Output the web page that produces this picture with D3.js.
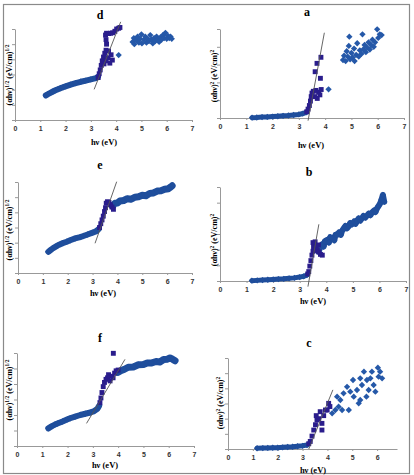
<!DOCTYPE html>
<html>
<head>
<meta charset="utf-8">
<script src="https://cdn.jsdelivr.net/npm/d3@7"></script>
<style>
body { margin: 0; background: #fff; }
text { font-family: "Liberation Serif", "DejaVu Serif", serif; font-weight: bold; }
.tick text { font-family: "Liberation Sans", Arial, sans-serif; font-size: 7px; fill: #333; }
</style>
</head>
<body>
<div id="chart"></div>
<script>
// tick labels
var hvTicks = [0, 1, 2, 3, 4, 5, 6, 7];
var hvTicksC = [0, 1, 2, 3, 4, 5, 6];
var yTicks5 = [0, 1, 2, 3, 4, 5];
var yTicks6 = [0, 1, 2, 3, 4, 5, 6];

// panel d : (ahv)^1/2
var dBand = [[1.22,1.62],[1.3,1.7],[1.4,1.79],[1.5,1.88],[1.6,1.96],[1.7,2.03],[1.8,2.1],[1.9,2.16],[2.0,2.22],[2.2,2.33],[2.4,2.43],[2.6,2.52],[2.8,2.6],[3.0,2.68],[3.2,2.76],[3.28,2.85]];
var dSquares = [[3.29,2.8],[3.33,3.05],[3.37,3.3],[3.41,3.6],[3.45,3.9],[3.5,4.15],[3.55,4.4],[3.6,4.6],[3.52,3.7],[3.6,3.9],[3.68,4.1],[3.75,3.75],[3.8,4.3],[3.85,3.95],[3.7,4.55],[3.62,5.0],[3.6,5.3],[3.58,5.6],[3.62,5.72],[3.7,5.7],[3.78,5.72],[3.86,5.75],[3.95,5.85],[4.02,6.0],[4.1,6.05],[4.15,6.1]];
var dCloud = [[4.1,4.28],[4.65,5.15],[4.7,5.4],[4.72,5.0],[4.8,5.25],[4.85,5.5],[4.9,5.1],[4.95,5.35],[5.0,5.65],[5.02,5.05],[5.1,5.3],[5.15,5.5],[5.2,5.1],[5.25,5.35],[5.3,5.2],[5.35,5.6],[5.4,5.3],[5.45,5.05],[5.5,5.4],[5.55,5.2],[5.6,5.5],[5.65,5.3],[5.7,5.15],[5.75,5.45],[5.8,5.3],[5.85,5.6],[5.9,5.4],[5.95,5.75],[6.0,5.35],[6.05,5.55],[6.1,5.4],[6.15,5.5],[6.2,5.35]];
var dFit = [[3.13,2.02],[4.18,6.47]];

// panel a : (ahv)^2
var aBand = [[1.22,0.02],[1.4,0.03],[1.6,0.05],[1.8,0.06],[2.0,0.08],[2.2,0.1],[2.4,0.12],[2.6,0.14],[2.8,0.17],[3.0,0.2],[3.15,0.25],[3.28,0.32]];
var aSquares = [[3.3,0.35],[3.35,0.5],[3.4,0.7],[3.44,0.95],[3.47,1.2],[3.5,1.4],[3.55,1.5],[3.6,1.2],[3.65,1.55],[3.7,1.1],[3.75,1.45],[3.8,1.3],[3.85,1.6],[3.62,2.6],[3.69,3.07],[3.82,2.23],[3.84,3.41]];
var aCloud = [[4.13,1.61],[4.68,3.26],[4.72,3.5],[4.78,3.2],[4.82,3.75],[4.86,3.45],[4.9,4.05],[4.92,4.57],[4.95,3.3],[5.0,3.65],[5.05,3.4],[5.1,3.9],[5.12,3.2],[5.18,3.55],[5.22,4.2],[5.28,3.45],[5.32,3.8],[5.38,3.6],[5.42,4.7],[5.45,3.85],[5.5,4.1],[5.55,3.7],[5.6,3.95],[5.65,4.25],[5.7,3.85],[5.75,4.1],[5.8,4.4],[5.85,4.0],[5.9,4.25],[5.98,4.98],[6.02,4.5],[6.08,4.7],[6.15,4.66]];
var aFit = [[3.35,-0.15],[3.97,4.79]];

// panel e : (ahv)^1/2
var eBand = [[1.22,1.4],[1.3,1.5],[1.4,1.62],[1.5,1.72],[1.6,1.82],[1.7,1.9],[1.8,1.97],[1.96,2.06],[2.1,2.16],[2.3,2.28],[2.5,2.37],[2.63,2.44],[2.8,2.54],[3.0,2.66],[3.15,2.76],[3.25,2.9]];
var eBand2 = [[3.8,4.4],[3.9,4.6],[4.0,4.62],[4.1,4.75],[4.25,4.78],[4.4,4.9],[4.55,4.86],[4.7,5.0],[4.85,5.02],[5.0,5.12],[5.15,5.1],[5.3,5.25],[5.45,5.28],[5.6,5.4],[5.75,5.42],[5.9,5.52],[6.05,5.56],[6.15,5.68],[6.2,5.75]];
var eSquares = [[3.28,3.0],[3.33,3.25],[3.38,3.5],[3.43,3.75],[3.48,4.05],[3.52,4.3],[3.55,4.6],[3.6,4.7],[3.66,4.65],[3.72,4.5],[3.78,4.35],[3.84,4.2]];
var eFit = [[3.1,1.96],[3.97,6.02]];

// panel b : (ahv)^2
var bBand = [[1.2,0.02],[1.4,0.04],[1.6,0.06],[1.8,0.08],[2.0,0.1],[2.2,0.12],[2.4,0.14],[2.6,0.17],[2.8,0.2],[3.0,0.25],[3.15,0.3],[3.27,0.38]];
var bSquares = [[3.3,0.45],[3.34,0.6],[3.38,0.95],[3.42,1.3],[3.46,1.65],[3.5,1.9],[3.52,2.2],[3.5,2.45],[3.58,2.5],[3.62,2.2],[3.66,1.95],[3.72,1.85],[3.78,1.7],[3.85,1.65],[3.7,2.3]];
var bBand2 = [[3.71,1.87],[3.76,2.1],[3.84,2.34],[3.9,2.2],[3.95,2.55],[4.03,2.62],[4.1,2.45],[4.15,2.8],[4.22,2.72],[4.3,2.6],[4.35,2.95],[4.4,2.94],[4.48,3.1],[4.55,2.95],[4.59,3.19],[4.65,3.35],[4.72,3.51],[4.78,3.36],[4.85,3.5],[4.9,3.7],[4.97,3.62],[5.05,3.8],[5.1,3.65],[5.16,3.83],[5.22,4.0],[5.28,3.85],[5.34,4.0],[5.4,4.15],[5.47,4.05],[5.53,4.17],[5.6,4.3],[5.66,4.2],[5.72,4.38],[5.8,4.5],[5.85,4.4],[5.91,4.64],[5.97,4.8],[6.03,4.96],[6.08,5.2],[6.13,5.49],[6.18,5.06]];
var bFit = [[3.31,-0.36],[3.72,3.62]];

// panel f : (ahv)^1/2
var fBand = [[1.24,1.14],[1.3,1.2],[1.4,1.3],[1.5,1.38],[1.6,1.45],[1.8,1.58],[2.0,1.72],[2.1,1.79],[2.3,1.9],[2.5,2.0],[2.7,2.08],[2.9,2.16],[3.05,2.25],[3.18,2.4],[3.25,2.6]];
var fBand2 = [[4.0,4.75],[4.1,4.85],[4.25,4.95],[4.4,5.08],[4.6,5.1],[4.8,5.24],[5.0,5.26],[5.15,5.36],[5.3,5.35],[5.5,5.45],[5.65,5.42],[5.8,5.58],[5.95,5.6],[6.05,5.68],[6.15,5.6],[6.25,5.5]];
var fSquares = [[3.28,2.8],[3.32,3.1],[3.36,3.45],[3.41,3.83],[3.46,4.1],[3.52,4.3],[3.58,4.4],[3.62,4.6],[3.68,4.2],[3.74,4.5],[3.8,4.4],[3.86,4.7],[3.92,4.85],[4.0,4.9],[3.81,5.98]];
var fFit = [[2.75,1.46],[4.27,5.59]];

// panel c : (ahv)^2
var cBand = [[1.17,0.05],[1.4,0.06],[1.6,0.07],[1.8,0.08],[2.0,0.09],[2.2,0.11],[2.4,0.13],[2.6,0.15],[2.8,0.18],[3.0,0.21],[3.18,0.26]];
var cSquares = [[3.25,0.35],[3.31,0.5],[3.38,0.85],[3.45,1.25],[3.52,1.6],[3.58,1.91],[3.55,2.2],[3.65,2.0],[3.71,2.46],[3.78,1.25],[3.78,1.69],[3.85,2.2],[3.92,2.57],[3.99,2.57],[4.05,3.01],[4.1,2.8]];
var cCloud = [[4.19,2.35],[4.32,2.57],[4.39,3.45],[4.45,2.79],[4.52,3.23],[4.59,2.57],[4.65,3.67],[4.79,4.1],[4.86,2.57],[4.92,3.78],[5.03,4.55],[5.06,3.45],[5.19,3.89],[5.26,3.01],[5.32,3.23],[5.32,4.66],[5.39,4.22],[5.47,5.1],[5.57,3.45],[5.59,4.55],[5.66,3.89],[5.73,4.66],[5.79,5.1],[5.86,4.22],[5.93,3.78],[6.03,5.36],[6.06,4.77],[6.12,5.1],[6.2,4.66]];
var cFit = [[3.25,0],[4.22,3.9]];

var width = 414, height = 475;

var panels = [
  {name:'d', bands:[dBand], bw:[6], squares:dSquares, cloud:dCloud, fit:dFit, x0:15, x1:192, y0:120, y1:29, xMax:7, yTicks:yTicks6, xTicks:hvTicks, pow:'1/2', title:[100,19], xlab:[104,145], ylab:[9,75]},
  {name:'a', bands:[aBand], bw:[5], squares:aSquares, cloud:aCloud, fit:aFit, x0:220, x1:404, y0:118, y1:29, xMax:7, yTicks:yTicks5, xTicks:hvTicks, pow:'2', title:[307,16], xlab:[311,148], ylab:[214,76]},
  {name:'e', bands:[eBand, eBand2], bw:[6, 7], squares:eSquares, cloud:[], fit:eFit, x0:18, x1:192, y0:273, y1:182, xMax:7, yTicks:yTicks6, xTicks:hvTicks, pow:'1/2', title:[100,169], xlab:[103,296], ylab:[9,230]},
  {name:'b', bands:[bBand, bBand2], bw:[5, 6], squares:bSquares, cloud:[], fit:bFit, x0:220, x1:406, y0:281, y1:187, xMax:7, yTicks:yTicks6, xTicks:hvTicks, pow:'2', title:[309,176], xlab:[313,304], ylab:[214,240]},
  {name:'f', bands:[fBand, fBand2], bw:[6, 7], squares:fSquares, cloud:[], fit:fFit, x0:17, x1:194, y0:446, y1:353, xMax:7, yTicks:yTicks6, xTicks:hvTicks, pow:'1/2', title:[100,342], xlab:[105,468], ylab:[9,390]},
  {name:'c', bands:[cBand], bw:[5], squares:cSquares, cloud:cCloud, fit:cFit, x0:228, x1:397, y0:449, y1:358, xMax:6.8, yTicks:yTicks6, xTicks:hvTicksC, pow:'2', title:[309,347], xlab:[313,473], ylab:[220,403]}
];

var svg = d3.select('#chart')
  .append('svg')
  .attr('width', width)
  .attr('height', height);

svg.append('rect')
  .attr('x', 3.5).attr('y', 4.5)
  .attr('width', 406).attr('height', 469)
  .attr('fill', 'none')
  .attr('stroke', '#8a8a8a')
  .attr('stroke-width', 1.2);

var bandColor = '#1f4e9c';
var dotColor = '#2558a8';
var sqColor = '#2a1d8c';

var diamond = d3.symbol().type(d3.symbolSquare).size(20);
var square = d3.symbol().type(d3.symbolSquare).size(24);

panels.forEach(function(p) {
  var x = d3.scaleLinear().domain([0, p.xMax]).range([p.x0, p.x1]);
  var y = d3.scaleLinear().domain([0, d3.max(p.yTicks)]).range([p.y0, p.y1]);
  var g = svg.append('g').attr('class', 'panel-' + p.name);

  var xAxis = d3.axisBottom(x)
    .tickValues(p.xTicks)
    .tickSize(2)
    .tickSizeOuter(0)
    .tickPadding(4)
    .tickFormat(d3.format('d'));
  g.append('g')
    .attr('transform', 'translate(0,' + p.y0 + ')')
    .call(xAxis);

  var yAxis = d3.axisLeft(y)
    .tickValues(p.yTicks)
    .tickSize(3)
    .tickSizeOuter(0)
    .tickFormat('');
  g.append('g')
    .attr('transform', 'translate(' + p.x0 + ',0)')
    .call(yAxis);

  g.selectAll('.domain').attr('stroke', '#999').attr('stroke-width', 1);
  g.selectAll('.tick line').attr('stroke', '#999');

  var line = d3.line()
    .x(function(d) { return x(d[0]); })
    .y(function(d) { return y(d[1]); });

  // dense bands of data points
  p.bands.forEach(function(b, i) {
    g.append('path')
      .datum(b)
      .attr('d', line)
      .attr('fill', 'none')
      .attr('stroke', bandColor)
      .attr('stroke-width', p.bw[i])
      .attr('stroke-linecap', 'round')
      .attr('stroke-linejoin', 'round');
    g.selectAll(null)
      .data(b)
      .enter().append('path')
      .attr('d', diamond)
      .attr('transform', function(d) { return 'translate(' + x(d[0]) + ',' + y(d[1]) + ') rotate(45)'; })
      .attr('fill', bandColor);
  });

  g.selectAll(null)
    .data(p.cloud)
    .enter().append('path')
    .attr('d', diamond)
    .attr('transform', function(d) { return 'translate(' + x(d[0]) + ',' + y(d[1]) + ') rotate(45)'; })
    .attr('fill', dotColor);

  g.selectAll(null)
    .data(p.squares)
    .enter().append('path')
    .attr('d', square)
    .attr('transform', function(d) { return 'translate(' + x(d[0]) + ',' + y(d[1]) + ')'; })
    .attr('fill', sqColor);

  g.append('path')
    .datum(p.fit)
    .attr('d', line)
    .attr('stroke', '#555')
    .attr('stroke-width', 0.9)
    .attr('fill', 'none');

  g.append('text')
    .attr('x', p.title[0]).attr('y', p.title[1])
    .attr('text-anchor', 'middle')
    .attr('font-size', 12)
    .text(p.name);

  g.append('text')
    .attr('x', p.xlab[0]).attr('y', p.xlab[1])
    .attr('text-anchor', 'middle')
    .attr('font-size', 8.5)
    .text('hν (eV)');

  var yl = g.append('text')
    .attr('transform', 'translate(' + p.ylab[0] + ',' + p.ylab[1] + ') rotate(-90)')
    .attr('text-anchor', 'middle')
    .attr('dy', '0.35em')
    .attr('font-size', 8);
  yl.append('tspan').text('(αhν)');
  yl.append('tspan').attr('font-size', 5.5).attr('dy', -3).text(p.pow);
  yl.append('tspan').attr('dy', 3).text(' (eV/cm)');
  yl.append('tspan').attr('font-size', 5.5).attr('dy', -3).text(p.pow);
});
</script>
</body>
</html>
